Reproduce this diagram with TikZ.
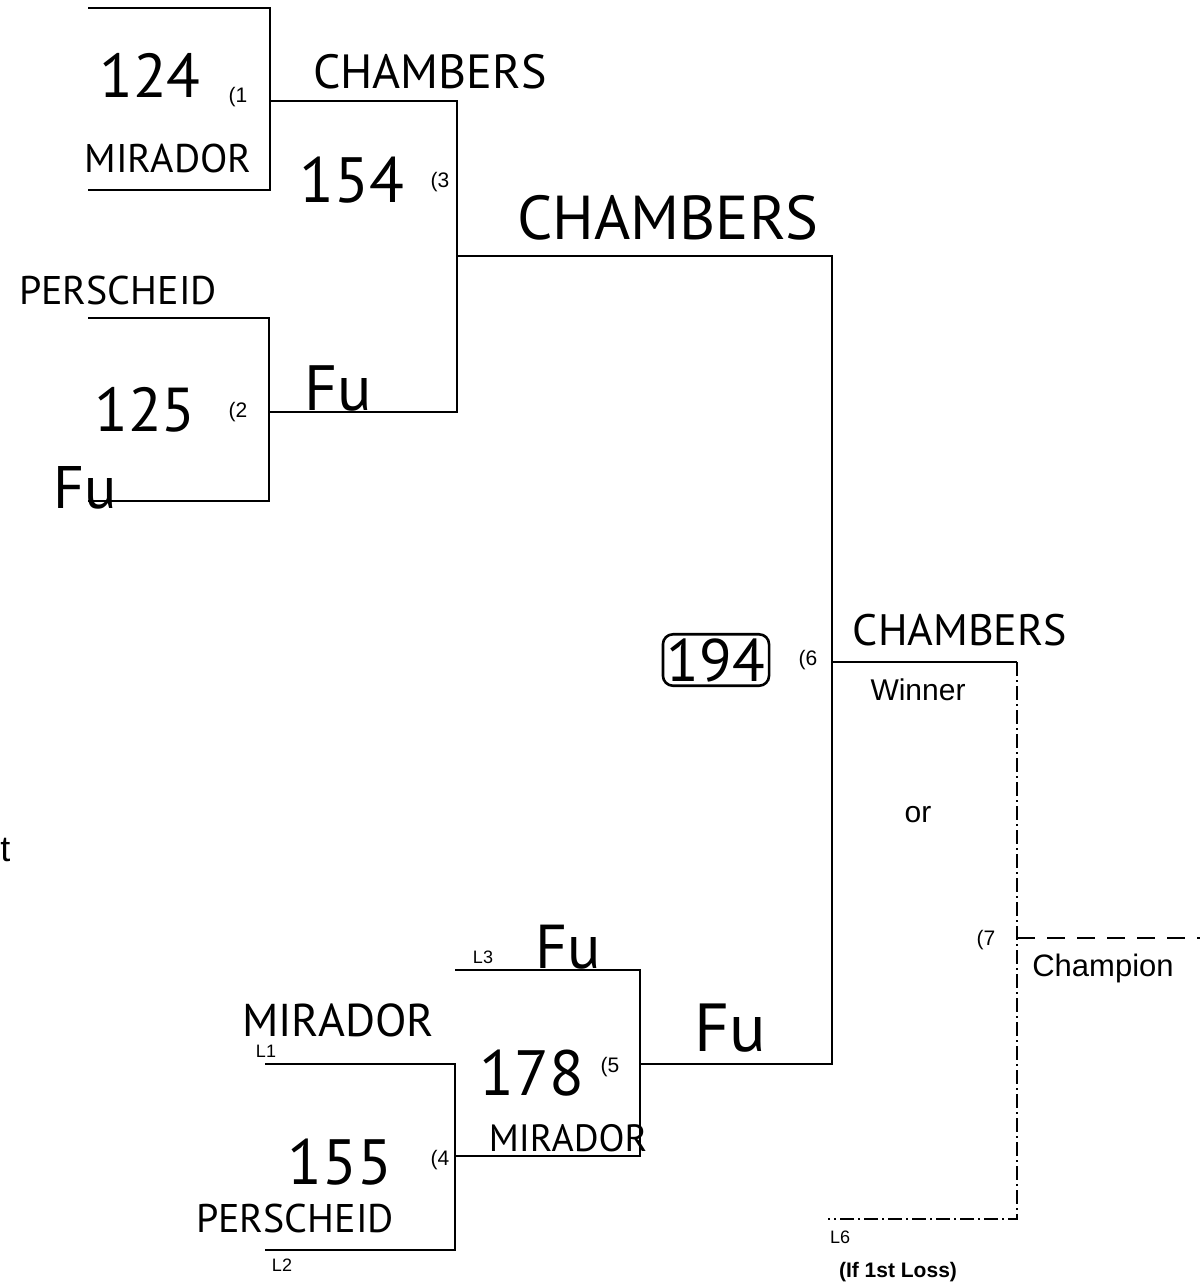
\documentclass[tikz,border=0pt]{standalone}
\usepackage{fontspec}
\setmainfont{Liberation Sans}
\newfontfamily\handfont{PT Sans}
\begin{document}
\begin{tikzpicture}[x=0.5pt,y=-0.5pt,
  bline/.style={line width=1pt, line join=miter},
  ddline/.style={line width=0.9pt, dash pattern=on 7pt off 2pt on 1pt off 2pt},
  dline/.style={line width=0.9pt, dash pattern=on 9pt off 6pt},
  hand/.style={font=\handfont\fontsize{#1}{#1}\selectfont, inner sep=0pt},
  prt/.style={font=\fontsize{#1}{#1}\selectfont, inner sep=0pt},
  gnum/.style={font=\fontsize{10.5}{10.5}\selectfont, inner sep=0pt},
  lab/.style={font=\fontsize{9}{9}\selectfont, inner sep=0pt}]
\useasboundingbox (0,0) rectangle (1200,1284);
\fill[white] (0,0) rectangle (1200,1284);

% coordinates
\coordinate (s1a) at (88,8);
\coordinate (s1b) at (88,190);
\coordinate (g1) at (270,101);
\coordinate (s2a) at (88,318);
\coordinate (s2b) at (88,501);
\coordinate (g2) at (269,412);
\coordinate (g3) at (457,256);
\coordinate (g6) at (832,662);
\coordinate (w7) at (1017,662);
\coordinate (l6) at (828,1219);
\coordinate (g7) at (1017,938);
\coordinate (champ) at (1200,938);
\coordinate (l3) at (455,970);
\coordinate (g5) at (640,1064);
\coordinate (g4) at (455,1156);
\coordinate (l1) at (265,1064);
\coordinate (l2) at (265,1250);

% bracket lines
\draw[bline] (s1a) -| (g1) |- (s1b);
\draw[bline] (s2a) -| (g2) |- (s2b);
\draw[bline] (g1) -| (g3);
\draw[bline] (g2) -| (g3);
\draw[bline] (g3) -| (g6);
\draw[bline] (g5) -| (g6);
\draw[bline] (g6) -- (w7);
\draw[ddline] (w7) |- (l6);
\draw[dline] (g7) -- (champ);
\draw[bline] (l3) -| (g5);
\draw[bline] (g4) -| (g5);
\draw[bline] (l1) -| (g4) |- (l2);

% handwritten entries
\node[hand=31] (n124) at (150,75) {124};
\node[hand=20] (mir1) at (168,158) {MIRADOR};
\node[hand=24] (cha1) at (430,72) {CHAMBERS};
\node[hand=32] (n154) at (352,180) {154};
\node[hand=20] (per1) at (118,290) {PERSCHEID};
\node[hand=31] (n125) at (145,410) {125};
\node[hand=32] (fu1) at (338,388) {Fu};
\node[hand=30] (fu2) at (85,488) {Fu};
\node[hand=31] (cha2) at (668,218) {CHAMBERS};
\node[hand=30, draw, line width=1.3pt, rounded corners=5pt, inner sep=2pt] (n194) at (716,660) {194};
\node[hand=22] (cha3) at (960,630) {CHAMBERS};
\node[hand=31] (fu3) at (568,947) {Fu};
\node[hand=23] (mir2) at (338,1020) {MIRADOR};
\node[hand=32] (n178) at (532,1073) {178};
\node[hand=19] (mir3) at (568,1138) {MIRADOR};
\node[hand=34] (fu4) at (730,1028) {Fu};
\node[hand=32] (n155) at (340,1162) {155};
\node[hand=20] (per2) at (295,1218) {PERSCHEID};

% game numbers
\node[gnum] (c1) at (238,97) {(1};
\node[gnum] (c2) at (238,412) {(2};
\node[gnum] (c3) at (440,182) {(3};
\node[gnum] (c4) at (440,1160) {(4};
\node[gnum] (c5) at (610,1067) {(5};
\node[gnum] (c6) at (808,660) {(6};
\node[gnum] (c7) at (986,940) {(7};

% printed labels
\node[prt=15] (win) at (918,690) {Winner};
\node[prt=15] (or) at (918,815) {or};
\node[prt=15.5] (chp) at (1103,968) {Champion};
\node[lab] (L3) at (483,957) {L3};
\node[lab] (L1) at (266,1051) {L1};
\node[lab] (L2) at (282,1265) {L2};
\node[lab] (L6) at (840,1237) {L6};
\node[font=\bfseries\fontsize{10.5}{10.5}\selectfont, inner sep=0pt] (loss) at (898,1272) {(If 1st Loss)};
\node[prt=18, anchor=west, inner sep=0pt] (frag) at (0,850) {t};
\end{tikzpicture}
\end{document}
